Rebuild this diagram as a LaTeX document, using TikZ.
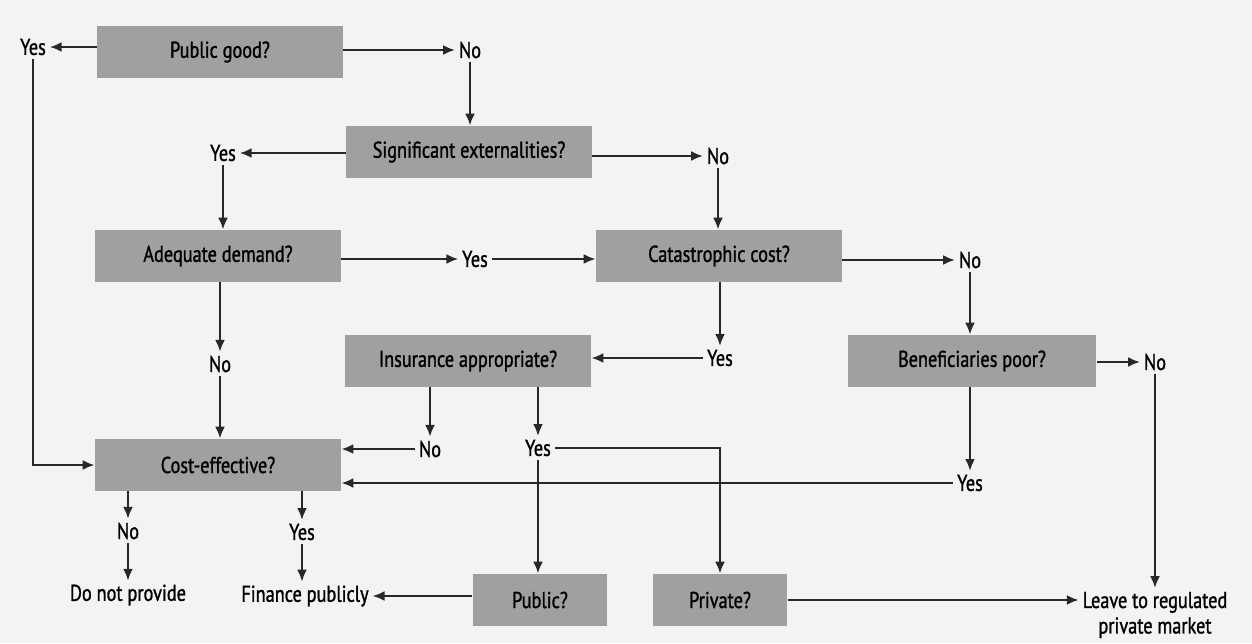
\documentclass[tikz,border=0pt]{standalone}
\usepackage{fontspec}
\setmainfont[FakeStretch=0.8, FakeBold=1.2]{PT Sans}
\usetikzlibrary{arrows.meta}
\definecolor{boxgray}{RGB}{160,160,160}
\definecolor{paper}{RGB}{243,243,243}
\definecolor{ink}{RGB}{40,40,40}
\tikzset{
	qbox/.style={fill=boxgray, minimum width=4.92cm, minimum height=1.04cm, font=\fontsize{13}{15}\selectfont, text=black},
	smallbox/.style={qbox, minimum width=2.7cm},
	lbl/.style={inner sep=2pt, font=\fontsize{13}{14.5}\selectfont, text=black},
	arr/.style={-{Latex[length=2.4mm,width=2mm]}, line width=1.4pt, draw=ink},
}
\begin{document}
\begin{tikzpicture}[x=0.02cm,y=-0.02cm]
	\fill[paper] (0,0) rectangle (1252,643);
	\useasboundingbox (0,0) rectangle (1252,643);
	
	\node[qbox] (pub) at (220,52){Public good?};
	\node[qbox] (ext) at (469,152){Significant externalities?};
	\node[qbox] (dem) at (218,256){Adequate demand?};
	\node[qbox] (cat) at (719,256){Catastrophic cost?};
	\node[qbox] (ins) at (468,361){Insurance appropriate?};
	\node[qbox, minimum width=4.98cm] (ben) at (972,361){Beneficiaries poor?};
	\node[qbox] (cost) at (218,465){Cost-effective?};
	\node[smallbox] (pubq) at (540,600){Public?};
	\node[smallbox] (priv) at (720,600){Private?};
	
	\node[lbl] (yPub) at (33,47){Yes};
	\node[lbl] (nPub) at (470,50){No};
	\node[lbl] (yExt) at (223,153){Yes};
	\node[lbl] (nExt) at (718,156){No};
	\node[lbl] (yDem) at (475,259){Yes};
	\node[lbl] (nCat) at (970,260){No};
	\node[lbl] (yCat) at (720,358){Yes};
	\node[lbl] (nDem) at (220,364){No};
	\node[lbl] (nIns) at (430,449){No};
	\node[lbl] (yIns) at (538,448){Yes};
	\node[lbl] (nBen) at (1155,362){No};
	\node[lbl] (yBen) at (970,483){Yes};
	\node[lbl] (nCost) at (128,531){No};
	\node[lbl] (yCost) at (302,532){Yes};
	\node[lbl] (dnp) at (128,595){Do not provide};
	\node[lbl] (fin) at (305,596){Finance publicly};
	\node[lbl, align=center] (leave) at (1155,615){Leave to regulated\\private market};
	
	\draw[arr] (yPub.east -| pub.west) -- (yPub.east);
	\draw[arr] (nPub.west -| pub.east) -- (nPub.west);
	\draw[arr] (nPub) -- (nPub |- ext.north);
	\draw[arr] (yPub) |- (cost.west);
	
	\draw[arr] (yExt.east -| ext.west) -- (yExt.east);
	\draw[arr] (nExt.west -| ext.east) -- (nExt.west);
	\draw[arr] (yExt) -- (yExt |- dem.north);
	\draw[arr] (nExt) -- (nExt |- cat.north);
	
	\draw[arr] (yDem.west -| dem.east) -- (yDem.west);
	\draw[arr] (yDem.east) -- (yDem.east -| cat.west);
	\draw[arr] (nDem |- dem.south) -- (nDem);
	\draw[arr] (nDem) -- (nDem |- cost.north);
	
	\draw[arr] (nCat.west -| cat.east) -- (nCat.west);
	\draw[arr] (nCat) -- (nCat |- ben.north);
	\draw[arr] (yCat |- cat.south) -- (yCat);
	\draw[arr] (yCat.west) -- (yCat.west -| ins.east);
	
	\draw[arr] (nIns |- ins.south) -- (nIns);
	\draw[arr] (nIns.west) -- (nIns.west -| cost.east);
	\draw[arr] (yIns |- ins.south) -- (yIns);
	\draw[arr] (yIns) -- (yIns |- pubq.north);
	\draw[arr] (yIns.east) -| (priv.north);
	
	\draw[arr] (nBen.west -| ben.east) -- (nBen.west);
	\draw[arr] (yBen |- ben.south) -- (yBen);
	\draw[arr] (yBen.west) -- (yBen.west -| cost.east);
	\draw[arr] (nBen) -- (leave);
	
	\draw[arr] (nCost |- cost.south) -- (nCost);
	\draw[arr] (nCost) -- (dnp);
	\draw[arr] (yCost |- cost.south) -- (yCost);
	\draw[arr] (yCost) -- (yCost |- fin.north);
	
	\draw[arr] (fin.east -| pubq.west) -- (fin.east);
	\draw[arr] (priv.east) -- (priv.east -| leave.west);
\end{tikzpicture}
\end{document}
